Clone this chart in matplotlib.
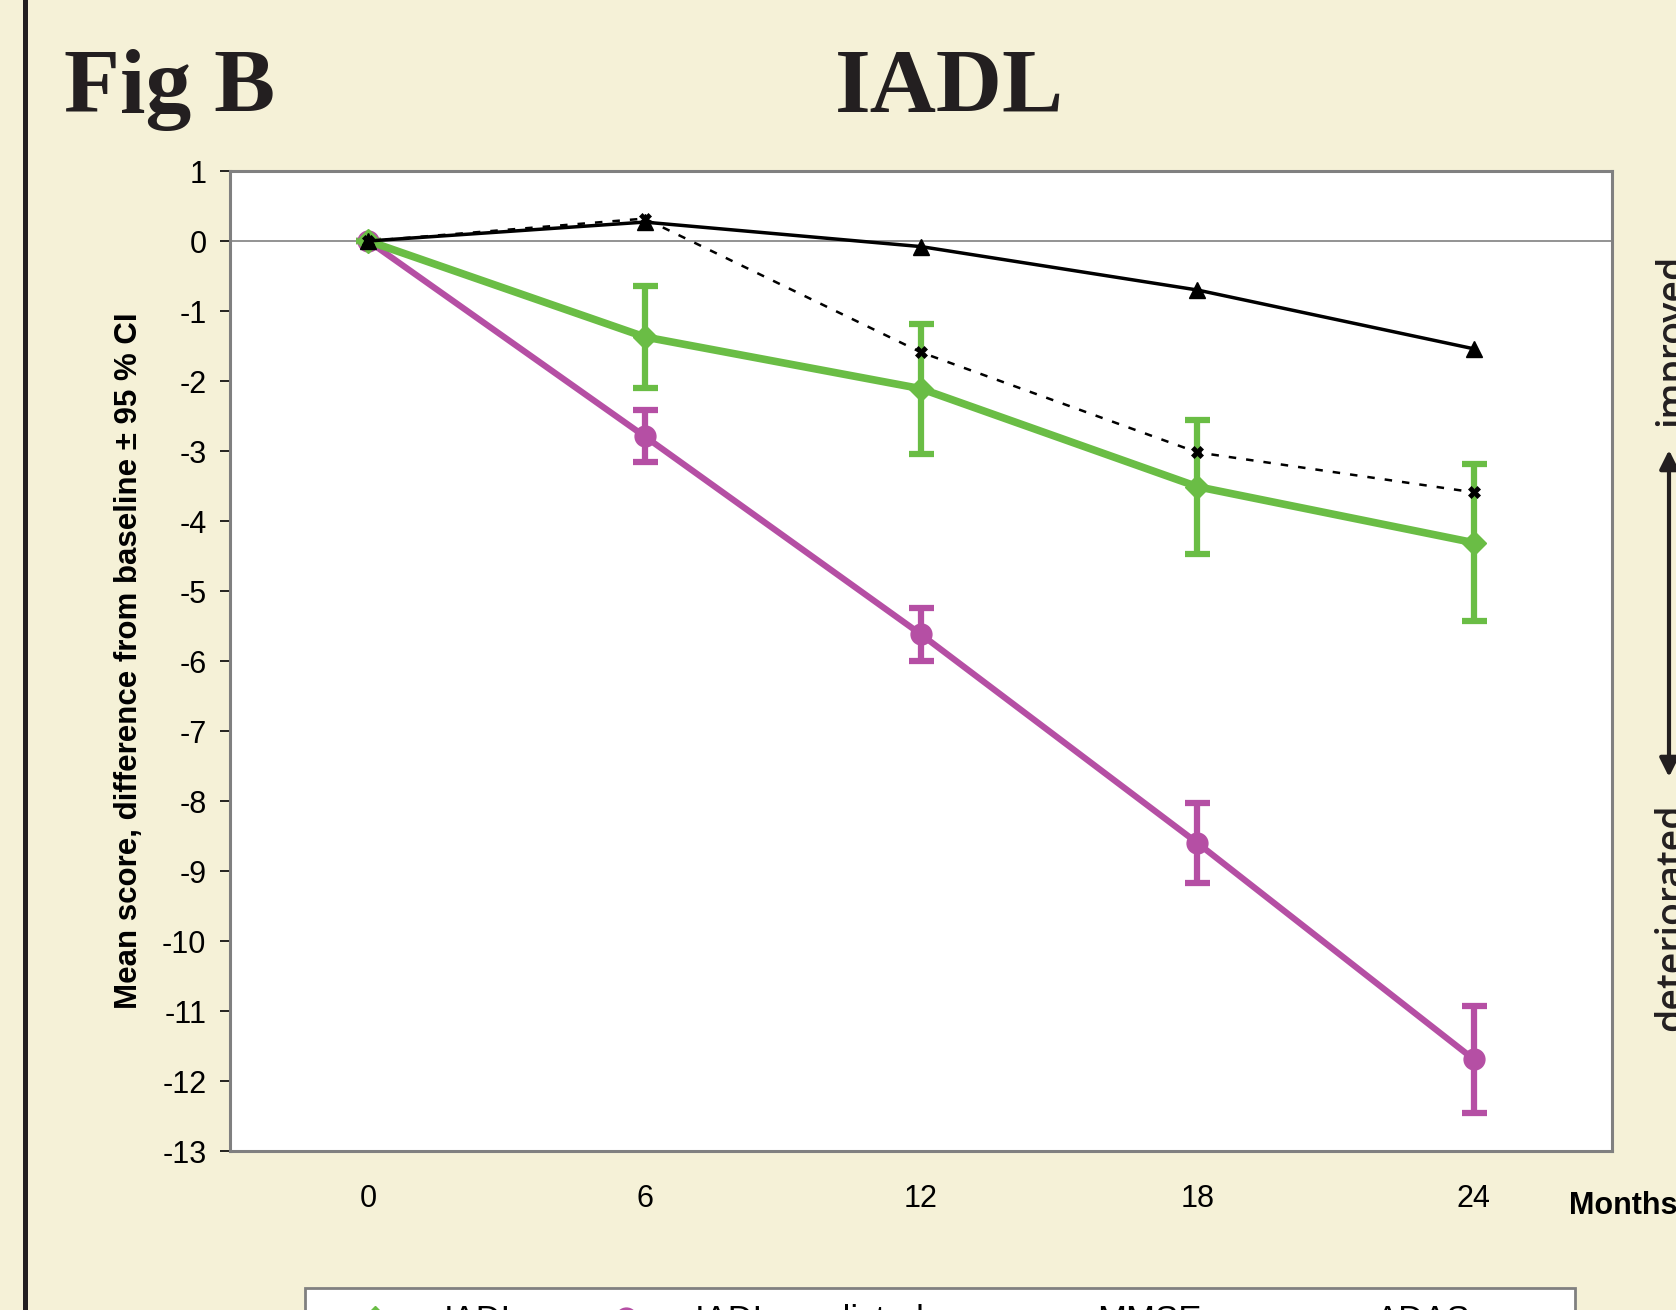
import matplotlib.pyplot as plt
from matplotlib.lines import Line2D
from matplotlib.patches import Rectangle

plt.rcParams['axes.unicode_minus'] = False

# Months since baseline
months = [0, 6, 12, 18, 24]

# IADL observed, with 95 % CI half-width
iadl = [0, -1.37, -2.11, -3.51, -4.31]
iadl_ci = [0, 0.73, 0.93, 0.96, 1.12]

# IADL predicted, with 95 % CI half-width
iadl_pred = [0, -2.79, -5.62, -8.60, -11.69]
iadl_pred_ci = [0, 0.37, 0.38, 0.57, 0.76]

# MMSE and ADAS (no error bars)
mmse = [0, 0.32, -1.59, -3.02, -3.59]
adas = [0, 0.27, -0.08, -0.70, -1.54]

legend_labels = ['IADL', 'IADL predicted', 'MMSE', 'ADAS']

bg = '#f5f1d7'
green = '#6abd45'
magenta = '#b54fa4'
ink = '#231f20'

W, H = 1676, 1310
fig = plt.figure(figsize=(W / 100, H / 100), dpi=100, facecolor=bg)
ax = fig.add_axes([230 / W, 1 - 1151 / H, 1382 / W, 980 / H])
ax.set_facecolor('white')

# zero line
ax.axhline(0, color='#808080', lw=1.2, zorder=1)

# ADAS solid with triangles
ax.plot(months, adas, color='black', lw=2.5, marker='^', ms=12, zorder=4)
# MMSE dashed with crosses
ax.plot(months, mmse, color='black', lw=1.8, ls=(0, (3, 4)), marker='X', ms=8,
        mew=0.5, zorder=4)

# IADL predicted
ax.errorbar(months, iadl_pred, yerr=iadl_pred_ci, color=magenta, lw=4.5,
            marker='o', ms=15, elinewidth=4.5, capsize=9, capthick=4.5, zorder=3)
# IADL observed
ax.errorbar(months, iadl, yerr=iadl_ci, color=green, lw=5.5,
            marker='D', ms=12, elinewidth=4.5, capsize=9, capthick=4.5, zorder=3)

ax.set_xlim(-3, 27)
ax.set_ylim(-13, 1)
ax.set_yticks(range(-13, 2))
ax.set_xticks(months)
for s in ax.spines.values():
    s.set_color('#808080')
    s.set_linewidth(2.2)
ax.tick_params(axis='y', length=7, width=1.2, color='black', pad=10,
               labelsize=22)
ax.tick_params(axis='x', length=0, pad=24, labelsize=22)
for lab in ax.get_xticklabels() + ax.get_yticklabels():
    lab.set_family('Liberation Sans')

ax.set_ylabel('Mean score, difference from baseline \u00b1 95 % CI',
              family='Liberation Sans', fontweight='bold', fontsize=22.5,
              labelpad=13)

fig.text(1569 / W, 1 - 1206 / H, 'Months', family='Liberation Sans',
         fontweight='bold', fontsize=22, ha='left', va='center')

# titles
fig.text(64 / W, 1 - 112 / H, 'Fig B', family='Liberation Serif',
         fontweight='bold', fontsize=66, ha='left', va='baseline', color=ink)
fig.text(949 / W, 1 - 112 / H, 'IADL', family='Liberation Serif',
         fontweight='bold', fontsize=66, ha='center', va='baseline', color=ink)

# left border line
fig.add_artist(Line2D([25 / W, 25 / W], [0, 1], color=ink, lw=3.6,
                      transform=fig.transFigure))

# improved / deteriorated arrow on the right
fig.text(1672 / W, 1 - 340 / H, 'improved', family='Open Sans', fontsize=27,
         fontweight='semibold', rotation=90, ha='center', va='center', color=ink)
fig.text(1672 / W, 1 - 917 / H, 'deteriorated', family='Open Sans', fontsize=27,
         fontweight='semibold', rotation=90, ha='center', va='center', color=ink)
ax.annotate('', xy=(1669 / W, 1 - 450 / H), xytext=(1669 / W, 1 - 777 / H),
            xycoords='figure fraction', textcoords='figure fraction',
            annotation_clip=False,
            arrowprops=dict(arrowstyle='<|-|>', color=ink, lw=3,
                            mutation_scale=28, shrinkA=0, shrinkB=0))

# legend box along the bottom (cut by the figure edge)
fig.add_artist(Rectangle((305 / W, -0.05), (1575 - 305) / W, 0.05 + 1 - 1288 / H,
                         transform=fig.transFigure, facecolor='white',
                         edgecolor='#808080', lw=2, zorder=2))
handles = [
    Line2D([], [], color=green, marker='D', ms=12, lw=0),
    Line2D([], [], color=magenta, marker='o', ms=15, lw=0),
    Line2D([], [], color='black', marker='X', ms=8, lw=1.8, ls=(0, (3, 4))),
    Line2D([], [], color='black', lw=2.5),
]
leg = fig.legend(handles, legend_labels, ncol=4, loc='upper left',
                 bbox_to_anchor=(340 / W, 1 - 1304 / H), frameon=False,
                 prop={'family': 'Liberation Sans', 'size': 25},
                 handlelength=2.0, handletextpad=1.0, columnspacing=2.0,
                 borderpad=0, borderaxespad=0)
leg.set_zorder(3)

fig.savefig('out.png', dpi=100, facecolor=bg)
